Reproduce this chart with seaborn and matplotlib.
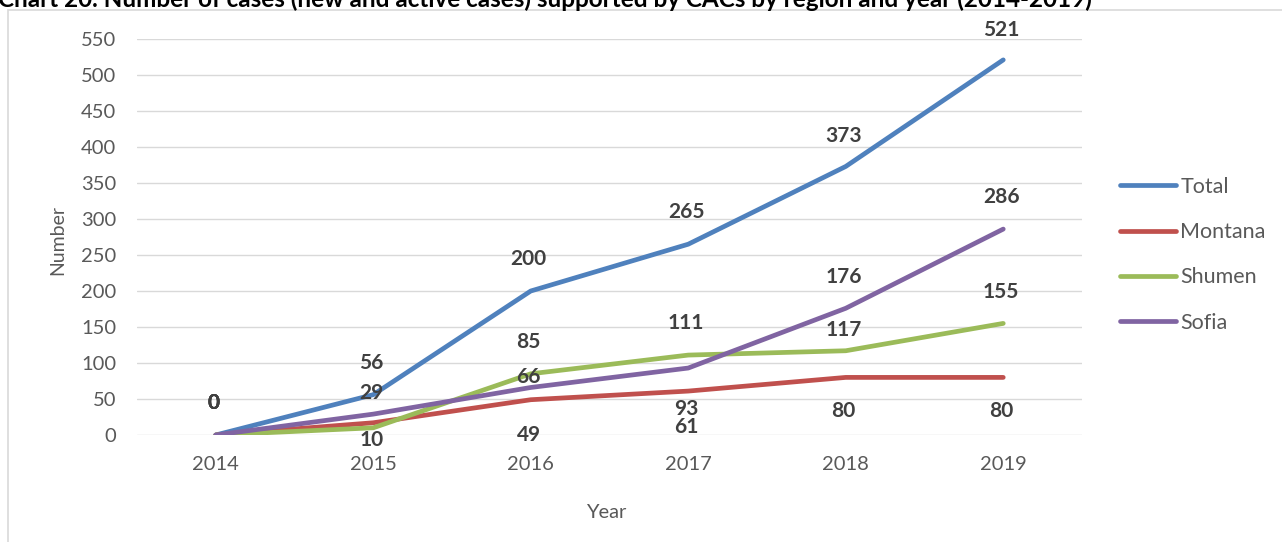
import matplotlib
matplotlib.use("Agg")
import matplotlib.pyplot as plt
from matplotlib.patches import Rectangle
import seaborn as sns
import pandas as pd

years = ["2014", "2015", "2016", "2017", "2018", "2019"]
total = [0, 56, 200, 265, 373, 521]
montana = [0, 17, 49, 61, 80, 80]
shumen = [0, 10, 85, 111, 117, 155]
sofia = [0, 29, 66, 93, 176, 286]

series_names = ["Total", "Montana", "Shumen", "Sofia"]
series_values = [total, montana, shumen, sofia]
colors = ["#4F81BD", "#C0504D", "#9BBB59", "#8064A2"]

# vertical label offsets in pixels (negative = above the point); None = no label
label_offsets = {
    "Total":   [-32, -32, -32, -32, -30, -30],
    "Montana": [-32, None, 35, 36, 34, 34],
    "Shumen":  [-32, 12, -32, -32, -21, -31],
    "Sofia":   [-32, -21, -10, 41, -31, -32],
}

rows = []
for name, vals in zip(series_names, series_values):
    for i, (yr, v) in enumerate(zip(years, vals)):
        rows.append({"idx": i, "Year": yr, "Number": v, "Series": name})
df = pd.DataFrame(rows)

sns.set_theme(style="white")
plt.rcParams["font.family"] = ["Lato", "DejaVu Sans"]

W, H = 1282, 542
fig = plt.figure(figsize=(W / 100, H / 100), dpi=100)
ax = fig.add_axes([137 / W, 1 - 435 / H, (1082 - 137) / W, (435 - 39) / H])

sns.lineplot(data=df, x="idx", y="Number", hue="Series", hue_order=series_names,
             palette=colors, linewidth=3.4, ax=ax, legend=False,
             solid_capstyle="round", solid_joinstyle="round")

ax.set_xlim(-0.5, len(years) - 0.5)
ax.set_ylim(0, 550)
ax.set_yticks(range(0, 551, 50))
ax.set_xticks(range(len(years)))
ax.set_xticklabels(years)
ax.grid(axis="y", color="#D9D9D9", linewidth=1)
ax.grid(axis="x", visible=False)
ax.set_axisbelow(True)
for s in ax.spines.values():
    s.set_visible(False)
ax.tick_params(axis="both", length=0, labelsize=14.5, labelcolor="#595959")
ax.tick_params(axis="y", pad=15)
ax.tick_params(axis="x", pad=15)
ax.set_xlabel("")
ax.set_ylabel("")

fig.text(606 / W, 1 - 513 / H, "Year", ha="center", va="center",
         fontsize=14.5, color="#595959")
fig.text(58 / W, 1 - 240 / H, "Number", ha="center", va="center",
         rotation=90, fontsize=14, color="#595959")

# data labels
for name, vals in zip(series_names, series_values):
    for i, v in enumerate(vals):
        off = label_offsets[name][i]
        if off is None:
            continue
        ax.annotate(str(v), (i, v), xytext=(-2, -off), textcoords="offset pixels",
                    ha="center", va="center", fontsize=15, fontweight="bold",
                    color="#404040")

# legend
handles = [plt.Line2D([], [], color=c, linewidth=3.4, solid_capstyle="round")
           for c in colors]
fig.legend(handles, series_names, loc="upper left",
           bbox_to_anchor=(1120 / W, 1 - 177 / H), frameon=False,
           fontsize=15.5, handlelength=2.6, handletextpad=0.2,
           labelspacing=1.17, borderpad=0, borderaxespad=0,
           labelcolor="#595959")

# chart-area border
fig.patches.append(Rectangle((8 / W, -0.1), 1.2, 1 - 10 / H + 0.1,
                             transform=fig.transFigure, fill=False,
                             edgecolor="#D9D9D9", linewidth=1.2))

fig.text(-2 / W, 1 - 7 / H,
         "Chart 20. Number of cases (new and active cases) supported by CACs by region and year (2014-2019)",
         ha="left", va="baseline", fontsize=17.5, fontweight="bold", color="black")

fig.savefig("out.png", dpi=100)
